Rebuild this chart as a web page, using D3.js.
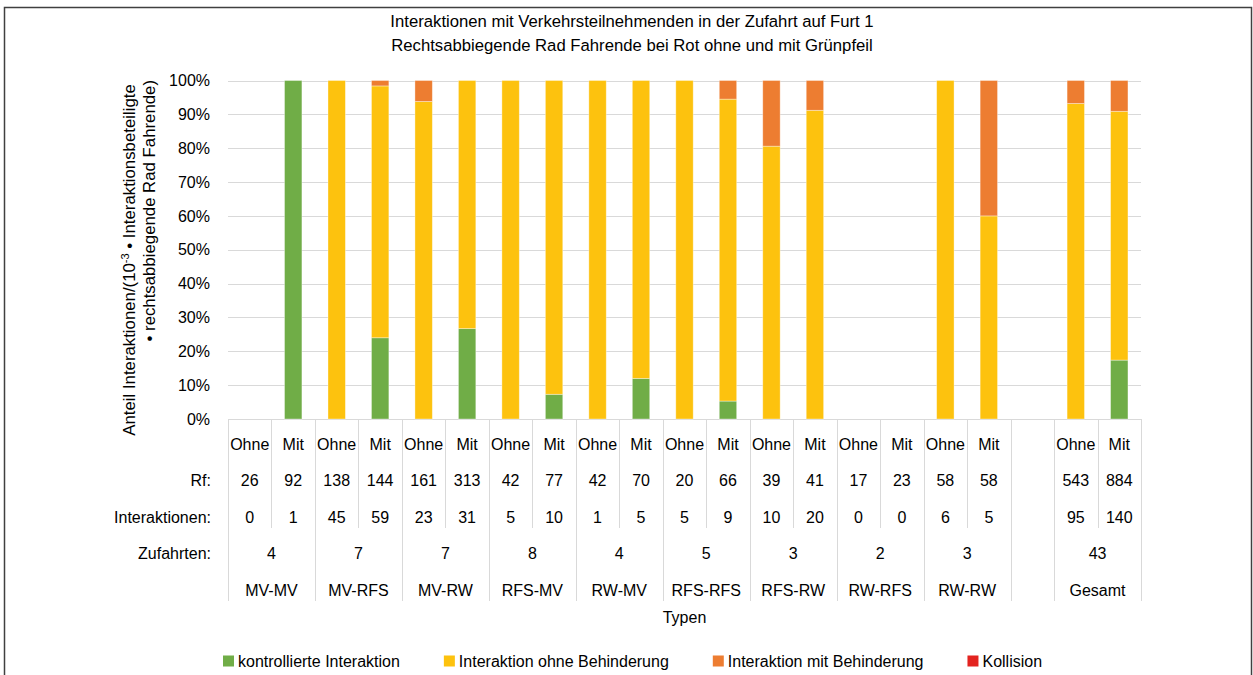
<!DOCTYPE html>
<html>
<head>
<meta charset="utf-8">
<script src="https://cdn.jsdelivr.net/npm/d3@7"></script>
<style>
  body { margin: 0; background: #fff; }
  svg { display: block; font-family: "Liberation Sans", Arial, sans-serif; }
</style>
</head>
<body>
<div id="chart"></div>
<script>
// groups of the multi-level category axis ("" = empty spacer column)
const typen = ["MV-MV", "MV-RFS", "MV-RW", "RFS-MV", "RW-MV", "RFS-RFS", "RFS-RW", "RW-RFS", "RW-RW", "", "Gesamt"];
const zufahrten = [4, 7, 7, 8, 4, 5, 3, 2, 3, null, 43];
const varianten = ["Ohne", "Mit"];

// one value per bar, in order (Ohne, Mit per group)
const rf = [26, 92, 138, 144, 161, 313, 42, 77, 42, 70, 20, 66, 39, 41, 17, 23, 58, 58, 543, 884];
const interaktionen = [0, 1, 45, 59, 23, 31, 5, 10, 1, 5, 5, 9, 10, 20, 0, 0, 6, 5, 95, 140];

// shares in percent
const kontrolliert   = [0, 100, 0, 24.0, 0, 26.7, 0, 7.3, 0, 12.0, 0, 5.3, 0, 0, 0, 0, 0, 0, 0, 17.4];
const ohneBehind     = [0, 0, 100, 74.4, 93.8, 73.3, 100, 92.7, 100, 88.0, 100, 89.2, 80.6, 91.2, 0, 0, 100, 60.0, 93.2, 73.5];
const mitBehind      = [0, 0, 0, 1.6, 6.2, 0, 0, 0, 0, 0, 0, 5.5, 19.4, 8.8, 0, 0, 0, 40.0, 6.8, 9.1];
const kollision      = [0, 0, 0, 0, 0, 0, 0, 0, 0, 0, 0, 0, 0, 0, 0, 0, 0, 0, 0, 0];

const seriesKeys = ["kontrolliert", "ohne", "mit", "kollision"];
const seriesNames = ["kontrollierte Interaktion", "Interaktion ohne Behinderung", "Interaktion mit Behinderung", "Kollision"];
const seriesColors = ["#70AD47", "#FDC20E", "#ED7D31", "#E3231F"];

const width = 1253, height = 675;
const plot = { left: 228, right: 1141, top: 80.5, bottom: 419 };

// build columns from the groups
const columns = [];
let bi = 0;
typen.forEach((t, gi) => {
    if (t === "") {
        columns.push({ key: "leer" + gi, group: gi, blank: true });
        return;
    }
    varianten.forEach(v => {
        columns.push({
            key: t + "|" + v, group: gi, variant: v, blank: false,
            rf: rf[bi], inter: interaktionen[bi],
            kontrolliert: kontrolliert[bi], ohne: ohneBehind[bi], mit: mitBehind[bi], kollision: kollision[bi]
        });
        bi++;
    });
});
const barCols = columns.filter(c => !c.blank);

const svg = d3.select("#chart").append("svg")
    .attr("width", width)
    .attr("height", height);

svg.append("rect")
    .attr("x", 0).attr("y", 0).attr("width", width).attr("height", height)
    .attr("fill", "#fff");

// outer frame
svg.append("rect")
    .attr("x", 4.5).attr("y", 7.5).attr("width", 1247).attr("height", 700)
    .attr("fill", "none")
    .attr("stroke", "#404040")
    .attr("stroke-width", 1.5);

const x = d3.scaleBand()
    .domain(columns.map(c => c.key))
    .range([plot.left, plot.right])
    .padding(0);

const y = d3.scaleLinear()
    .domain([0, 100])
    .range([plot.bottom, plot.top]);

// title
const title = svg.append("text")
    .attr("text-anchor", "middle")
    .attr("font-size", 16.7)
    .attr("fill", "#000");
title.append("tspan").attr("x", 632).attr("y", 27)
    .text("Interaktionen mit Verkehrsteilnehmenden in der Zufahrt auf Furt 1");
title.append("tspan").attr("x", 632).attr("y", 51)
    .text("Rechtsabbiegende Rad Fahrende bei Rot ohne und mit Grünpfeil");

// gridlines
svg.append("g")
    .selectAll("line")
    .data(y.ticks(10))
    .join("line")
    .attr("x1", plot.left).attr("x2", plot.right)
    .attr("y1", d => Math.round(y(d)) + 0.5)
    .attr("y2", d => Math.round(y(d)) + 0.5)
    .attr("stroke", "#D9D9D9")
    .attr("stroke-width", 1);

// y axis labels
const yAxis = svg.append("g")
    .attr("transform", `translate(${plot.left - 18},0)`)
    .call(d3.axisLeft(y).ticks(10).tickFormat(d => d + "%").tickSize(0).tickPadding(0));
yAxis.select(".domain").remove();
yAxis.selectAll("text")
    .attr("font-size", 16)
    .attr("font-family", "Liberation Sans, Arial, sans-serif")
    .attr("fill", "#000");

// y axis title (rotated, two lines)
const yl1 = svg.append("text")
    .attr("transform", "translate(135,260) rotate(-90)")
    .attr("text-anchor", "middle")
    .attr("font-size", 16.8)
    .attr("fill", "#000");
yl1.append("tspan").text("Anteil Interaktionen/(10");
yl1.append("tspan").attr("font-size", 11).attr("dy", -6).text("-3");
yl1.append("tspan").attr("dy", 6).text(" • Interaktionsbeteiligte");

svg.append("text")
    .attr("transform", "translate(155,80) rotate(-90)")
    .attr("text-anchor", "end")
    .attr("font-size", 16.8)
    .attr("fill", "#000")
    .text("• rechtsabbiegende Rad Fahrende)");

// stacked bars
const stack = d3.stack().keys(seriesKeys);
const stacked = stack(barCols);
const barW = 17.4;

svg.append("g")
    .selectAll("g")
    .data(stacked)
    .join("g")
    .attr("fill", (d, i) => seriesColors[i])
    .selectAll("rect")
    .data(d => d.filter(s => s[1] - s[0] > 0))
    .join("rect")
    .attr("x", d => x(d.data.key) + (x.bandwidth() - barW) / 2)
    .attr("y", d => y(d[1]))
    .attr("width", barW)
    .attr("height", d => y(d[0]) - y(d[1]))
    .attr("stroke", "#fff")
    .attr("stroke-opacity", 0.45)
    .attr("stroke-width", 0.8);

// category table below the plot
const rowY = { variant: 444, rf: 480.5, inter: 517, zuf: 553.5, typ: 590 };
const innerBottom = 528, outerBottom = 601;
const table = svg.append("g");

// separators between Ohne / Mit inside a group
table.selectAll(".inner")
    .data(barCols.filter(c => c.variant === "Mit"))
    .join("line")
    .attr("class", "inner")
    .attr("x1", d => Math.round(x(d.key)) + 0.5)
    .attr("x2", d => Math.round(x(d.key)) + 0.5)
    .attr("y1", plot.bottom).attr("y2", innerBottom)
    .attr("stroke", "#D9D9D9");

// group boundaries
const groupEdges = [];
columns.forEach((c, i) => {
    if (i === 0 || columns[i - 1].group !== c.group) groupEdges.push(x(c.key));
});
groupEdges.push(plot.right);
table.selectAll(".outer")
    .data(groupEdges)
    .join("line")
    .attr("class", "outer")
    .attr("x1", d => Math.round(d) + 0.5)
    .attr("x2", d => Math.round(d) + 0.5)
    .attr("y1", plot.bottom).attr("y2", outerBottom)
    .attr("stroke", "#D9D9D9");

const cx = d => x(d.key) + x.bandwidth() / 2;
const cellText = (sel) => sel
    .attr("text-anchor", "middle")
    .attr("dy", "0.35em")
    .attr("font-size", 16)
    .attr("fill", "#000");

table.selectAll(".var").data(barCols).join("text").attr("class", "var")
    .attr("x", cx).attr("y", rowY.variant).call(cellText).text(d => d.variant);
table.selectAll(".rf").data(barCols).join("text").attr("class", "rf")
    .attr("x", cx).attr("y", rowY.rf).call(cellText).text(d => d.rf);
table.selectAll(".int").data(barCols).join("text").attr("class", "int")
    .attr("x", cx).attr("y", rowY.inter).call(cellText).text(d => d.inter);

const groupData = typen.map((t, gi) => {
    const cols = columns.filter(c => c.group === gi);
    const x0 = x(cols[0].key), x1 = x(cols[cols.length - 1].key) + x.bandwidth();
    return { name: t, zuf: zufahrten[gi], cx: (x0 + x1) / 2 };
}).filter(g => g.name !== "");

table.selectAll(".zuf").data(groupData).join("text").attr("class", "zuf")
    .attr("x", d => d.cx).attr("y", rowY.zuf).call(cellText).text(d => d.zuf);
table.selectAll(".typ").data(groupData).join("text").attr("class", "typ")
    .attr("x", d => d.cx).attr("y", rowY.typ).call(cellText).text(d => d.name);

// row labels
const rowLabels = [["Rf:", rowY.rf], ["Interaktionen:", rowY.inter], ["Zufahrten:", rowY.zuf]];
table.selectAll(".rowlab").data(rowLabels).join("text").attr("class", "rowlab")
    .attr("x", 211).attr("y", d => d[1])
    .attr("text-anchor", "end").attr("dy", "0.35em")
    .attr("font-size", 16).attr("fill", "#000")
    .text(d => d[0]);

// x axis title
svg.append("text")
    .attr("x", (plot.left + plot.right) / 2).attr("y", 617)
    .attr("text-anchor", "middle").attr("dy", "0.35em")
    .attr("font-size", 16).attr("fill", "#000")
    .text("Typen");

// legend
const legend = svg.append("g").attr("transform", "translate(223,661)");
let lx = 0;
seriesNames.forEach((name, i) => {
    const item = legend.append("g").attr("transform", `translate(${lx},0)`);
    item.append("rect")
        .attr("x", 0).attr("y", -5.5).attr("width", 11).attr("height", 11)
        .attr("fill", seriesColors[i]);
    const t = item.append("text")
        .attr("x", 15).attr("dy", "0.35em")
        .attr("font-size", 16).attr("fill", "#000")
        .text(name);
    lx += 15 + t.node().getComputedTextLength() + 44;
});
</script>
</body>
</html>
